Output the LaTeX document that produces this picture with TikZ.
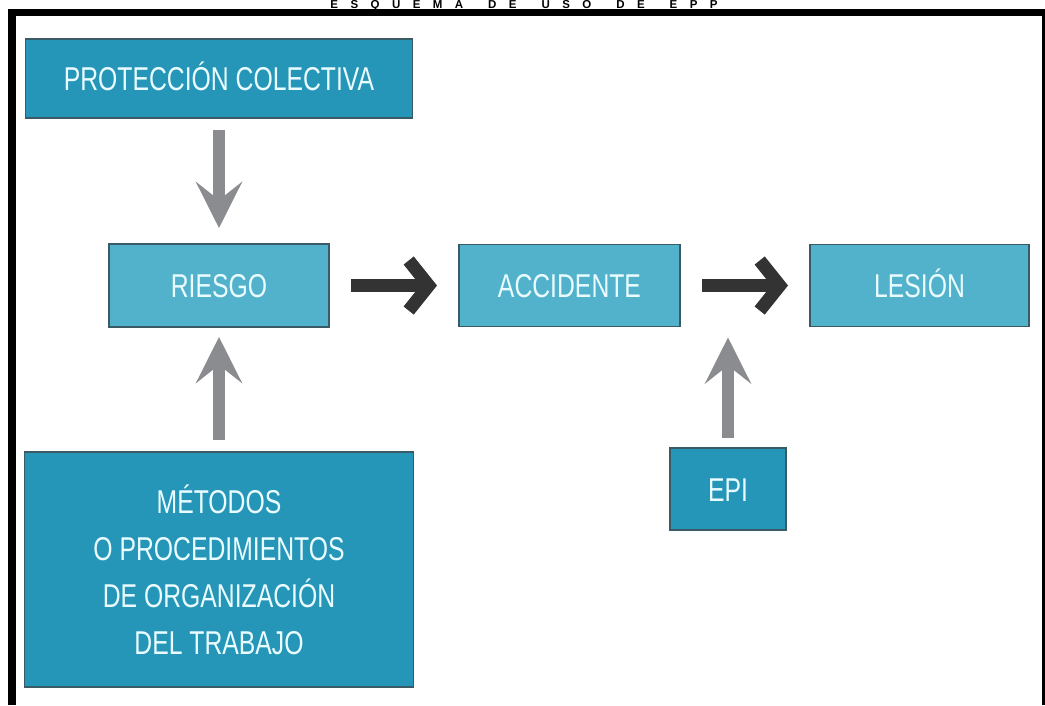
\documentclass[tikz,border=0pt]{standalone}
\usepackage{fontspec}
\usepackage{tikz}
\usetikzlibrary{positioning,arrows.meta}
\newfontfamily\boxfont{Liberation Sans}[FakeStretch=0.75]
\newfontfamily\titlefont{Liberation Sans}[WordSpace=3.9]
\definecolor{tealdark}{HTML}{2696B8}
\definecolor{teallight}{HTML}{52B2CC}
\definecolor{tealedge}{HTML}{3A5A66}
\definecolor{boxtext}{HTML}{EAFCFF}
\definecolor{arrowgray}{HTML}{8A8C8F}
\definecolor{arrowblack}{HTML}{333333}

\begin{document}
\begin{tikzpicture}[x=1pt,y=-1pt,
		box/.style={draw=tealedge,line width=1.5pt,inner sep=0pt,outer sep=0pt,
			text=boxtext,font=\boxfont\fontsize{33}{47}\selectfont,align=center},
		oneline/.style={text height=24pt,text depth=0pt},
		darkbox/.style={box,fill=tealdark},
		lightbox/.style={box,fill=teallight,oneline},
		grayarrow/.style={arrowgray,line width=12pt,
			-{Stealth[length=46pt,width=46pt,inset=18pt]}},
		blackarrow/.style={arrowblack,line width=13pt,
			-{Straight Barb[length=20pt,width=50pt,line join=miter,line cap=butt]}}
		]
		\useasboundingbox (0,0) rectangle (1045,705);
		\fill[white] (0,0) rectangle (1045,705);
		\fill[black] (8,9) rectangle (1045,16);
		\fill[black] (8,9) rectangle (16,705);
		\fill[black] (1042,9) rectangle (1045,705);
		\node[anchor=base,inner sep=0pt] (titulo) at (524,8.6)
			{\titlefont\fontsize{11.5}{12}\selectfont\bfseries E S Q U E M A\ \ D E\ \ U S O\ \ D E\ \ E P P};
		
		\node[lightbox,minimum width=220pt,minimum height=83pt] (riesgo) at (219,285.5) {RIESGO};
		\node[lightbox,minimum width=221pt,minimum height=82pt,right=130pt of riesgo] (accidente) {ACCIDENTE};
		\node[lightbox,minimum width=219pt,minimum height=82pt,right=130pt of accidente] (lesion) {LESIÓN};
		\node[darkbox,oneline,minimum width=387pt,minimum height=79pt,above=126pt of riesgo] (proteccion) {PROTECCIÓN COLECTIVA};
		\node[darkbox,minimum width=389pt,minimum height=235pt,below=125pt of riesgo] (metodos)
			{MÉTODOS\\O PROCEDIMIENTOS\\DE ORGANIZACIÓN\\DEL TRABAJO};
		\node[darkbox,oneline,minimum width=116pt,minimum height=82pt] (epi) at (728,489) {EPI};
		\coordinate (epitarget) at (epi.north |- accidente.south);
		
		\draw[grayarrow,shorten <=12pt,shorten >=16pt] (proteccion) -- (riesgo);
		\draw[grayarrow,shorten <=12pt,shorten >=10pt] (metodos) -- (riesgo);
		\draw[grayarrow,shorten <=10pt,shorten >=11pt] (epi) -- (epitarget);
		\draw[blackarrow,shorten <=22pt,shorten >=22pt] (riesgo) -- (accidente);
		\draw[blackarrow,shorten <=22pt,shorten >=22pt] (accidente) -- (lesion);
	\end{tikzpicture}
\end{document}
